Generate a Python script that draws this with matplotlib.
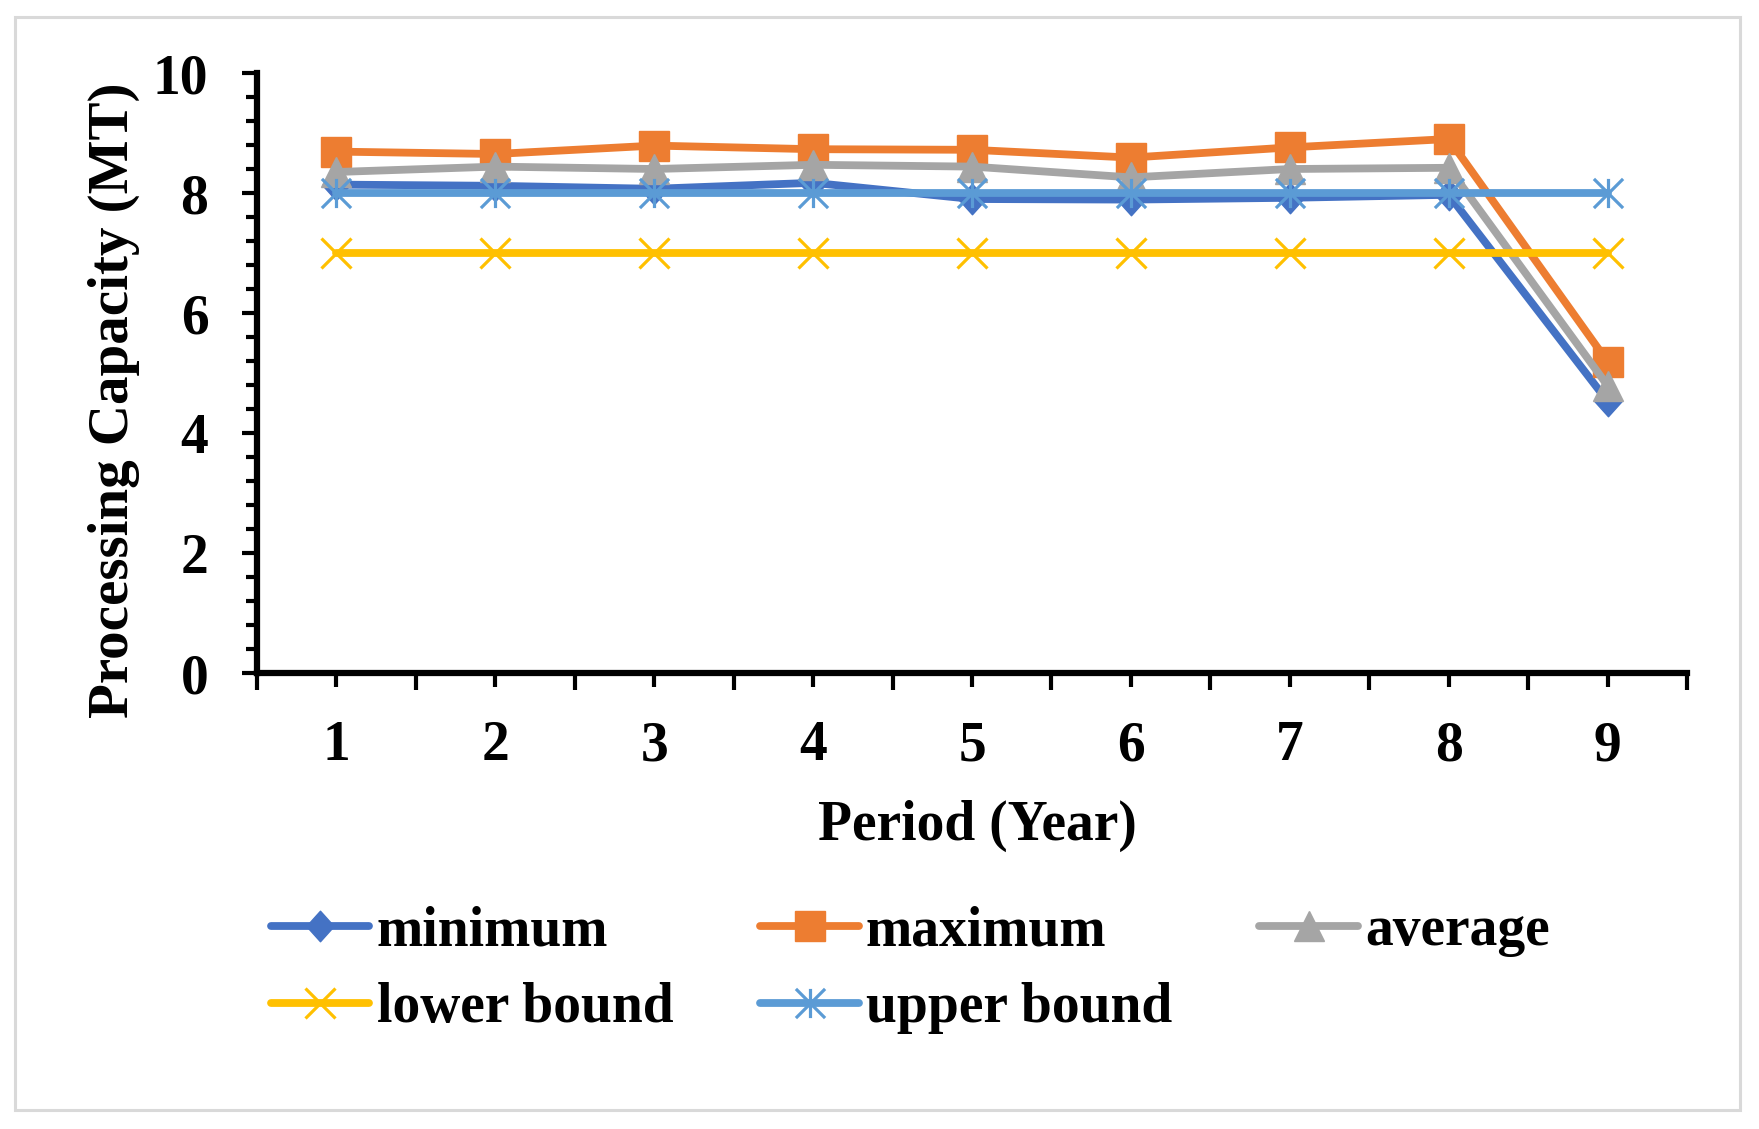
import matplotlib
matplotlib.use("Agg")
import matplotlib.pyplot as plt
from matplotlib.path import Path
from matplotlib.patches import Rectangle
from matplotlib.ticker import MultipleLocator, FixedLocator

plt.rcParams['font.family'] = ['Liberation Serif', 'DejaVu Serif']
plt.rcParams['font.weight'] = 'bold'

periods = [1, 2, 3, 4, 5, 6, 7, 8, 9]
minimum = [8.14, 8.12, 8.07, 8.17, 7.90, 7.89, 7.92, 7.97, 4.53]
maximum = [8.69, 8.65, 8.79, 8.73, 8.72, 8.59, 8.76, 8.90, 5.19]
average = [8.35, 8.44, 8.40, 8.47, 8.44, 8.26, 8.40, 8.42, 4.79]
lower_bound = [7, 7, 7, 7, 7, 7, 7, 7, 7]
upper_bound = [8, 8, 8, 8, 8, 8, 8, 8, 8]
series_names = ["minimum", "maximum", "average", "lower bound", "upper bound"]

W, H = 1759, 1129
fig = plt.figure(figsize=(W / 100, H / 100), dpi=100)

# light grey outer border
fig.patches.append(Rectangle((15 / W, 1 - 1110 / H), (1740 - 15) / W, (1110 - 17) / H,
                             transform=fig.transFigure, fill=False,
                             edgecolor='#D9D9D9', linewidth=2.2))

ax = fig.add_axes([257 / W, 1 - 673 / H, (1687 - 257) / W, (673 - 73) / H])

diamond = Path([(0, 1), (0.9, 0), (0, -1), (-0.9, 0), (0, 1)],
               [Path.MOVETO, Path.LINETO, Path.LINETO, Path.LINETO, Path.CLOSEPOLY])
asterisk = Path([(0, -1), (0, 1), (-1, -1), (1, 1), (-1, 1), (1, -1)],
                [Path.MOVETO, Path.LINETO, Path.MOVETO, Path.LINETO, Path.MOVETO, Path.LINETO])

lw = 5.6
data = [minimum, maximum, average, lower_bound, upper_bound]
colors = ['#4472C4', '#ED7D31', '#A5A5A5', '#FFC000', '#5B9BD5']
markers = [diamond, 's', '^', 'x', asterisk]
msizes = [22, 21, 22, 21, 21]
mews = [1, 1, 1, 2.3, 2.3]

for vals, name, c, m, ms, mew in zip(data, series_names, colors, markers, msizes, mews):
    ax.plot(periods, vals, color=c, lw=lw, marker=m, markersize=ms,
            markerfacecolor=c, markeredgecolor=c, markeredgewidth=mew,
            label=name, solid_capstyle='round', solid_joinstyle='round')

ax.set_xlim(0.5, 9.5)
ax.set_ylim(0, 10)

for s in ['top', 'right']:
    ax.spines[s].set_visible(False)
for s in ['left', 'bottom']:
    ax.spines[s].set_linewidth(4.5)
    ax.spines[s].set_capstyle('projecting')

ax.yaxis.set_major_locator(MultipleLocator(2))
ax.yaxis.set_minor_locator(MultipleLocator(0.4))
ax.xaxis.set_major_locator(FixedLocator(periods))
ax.xaxis.set_minor_locator(FixedLocator([p - 0.5 for p in periods] + [9.5]))
ax.set_xticklabels([str(p) for p in periods])

ax.tick_params(axis='y', which='major', direction='out', length=11, width=3, pad=24,
               labelsize=40)
ax.tick_params(axis='y', which='minor', direction='out', length=8, width=3)
ax.tick_params(axis='x', which='major', direction='out', length=10, width=3, pad=24,
               labelsize=40)
ax.tick_params(axis='x', which='minor', direction='out', length=12, width=3)
for lab in ax.get_xticklabels() + ax.get_yticklabels():
    lab.set_fontweight('bold')

ax.set_xlabel("Period (Year)", fontsize=40, fontweight='bold')
ax.xaxis.label.set_va('center')
ax.xaxis.set_label_coords((977 - 257) / 1430, (673 - 826) / 600)

ax.set_ylabel("Processing Capacity (MT)", fontsize=41, fontweight='bold')
ax.yaxis.label.set_va('center')
ax.yaxis.set_label_coords((114 - 257) / 1430, (673 - 400) / 600)

handles, labels = ax.get_legend_handles_labels()
order = [0, 3, 1, 4, 2]  # row-major layout in 3 columns
leg = fig.legend([handles[i] for i in order], [labels[i] for i in order],
                 loc='upper left', ncol=3,
                 bbox_to_anchor=(271 / W, 1 - 905 / H), frameon=False,
                 borderpad=0, borderaxespad=0, handlelength=1.77, handletextpad=0.13,
                 columnspacing=1.57, labelspacing=0.45, numpoints=1,
                 prop={'size': 40, 'weight': 'bold'})

fig.savefig("out.png", dpi=100)
